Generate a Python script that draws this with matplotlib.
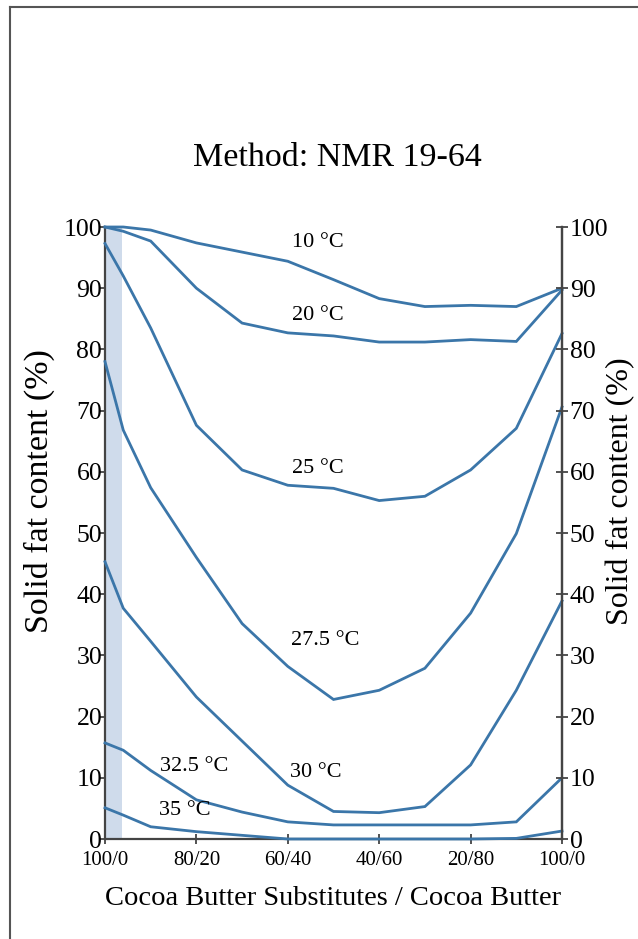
import matplotlib
matplotlib.use("Agg")
import matplotlib.pyplot as plt
from matplotlib.lines import Line2D

plt.rcParams['font.family'] = ['Liberation Serif', 'DejaVu Serif']

# CBS share (%) at each measured blend
x = [0, 4, 10, 20, 30, 40, 50, 60, 70, 80, 90, 100]

sfc_10 = [100, 100, 99.5, 97.4, 95.9, 94.4, 91.4, 88.3, 87.0, 87.2, 87.0, 90.0]
sfc_20 = [100, 99.3, 97.7, 90.0, 84.3, 82.7, 82.2, 81.2, 81.2, 81.6, 81.3, 89.7]
sfc_25 = [97.3, 92.0, 83.5, 67.6, 60.3, 57.8, 57.3, 55.3, 56.0, 60.3, 67.1, 82.6]
sfc_275 = [78.0, 66.8, 57.4, 46.0, 35.2, 28.2, 22.8, 24.3, 27.9, 36.9, 49.9, 70.6]
sfc_30 = [45.3, 37.7, 32.3, 23.2, 16.0, 8.8, 4.5, 4.3, 5.3, 12.1, 24.3, 38.9]
sfc_325 = [15.7, 14.5, 11.2, 6.4, 4.4, 2.8, 2.3, 2.3, 2.3, 2.3, 2.8, 10.0]
sfc_35 = [5.1, 3.9, 2.0, 1.2, 0.6, 0.0, 0.0, 0.0, 0.0, 0.0, 0.1, 1.3]

series = [sfc_10, sfc_20, sfc_25, sfc_275, sfc_30, sfc_325, sfc_35]
labels = ["10 °C", "20 °C", "25 °C", "27.5 °C", "30 °C", "32.5 °C", "35 °C"]
label_pos = [(46.6, 97.5), (46.6, 85.5), (46.6, 60.6), (48.1, 32.5),
             (46.2, 10.9), (19.5, 11.9), (17.5, 4.7)]

xticks = [0, 20, 40, 60, 80, 100]
xticklabels = ["100/0", "80/20", "60/40", "40/60", "20/80", "100/0"]
yticks = [0, 10, 20, 30, 40, 50, 60, 70, 80, 90, 100]

line_color = "#3b76a9"

fig = plt.figure(figsize=(6.38, 9.39), dpi=100)

# outer frame (left and top edges of the pasted box)
fig.add_artist(Line2D([10/638, 10/638], [0, 1 - 7/939], transform=fig.transFigure,
                      color="#555555", lw=1.5))
fig.add_artist(Line2D([10/638, 1], [1 - 7/939, 1 - 7/939], transform=fig.transFigure,
                      color="#555555", lw=1.5))

ax = fig.add_axes([105/638, 1 - 839/939, (562 - 105)/638, (839 - 227)/939])
ax.axvspan(0, 3.7, color="#cfdbeb", lw=0, zorder=0)

for ys in series:
    ax.plot(x, ys, color=line_color, lw=2.0, solid_joinstyle="miter", zorder=3, clip_on=False)

for lab, (lx, ly) in zip(labels, label_pos):
    ax.text(lx, ly, lab, fontsize=16, ha="center", va="center", zorder=4)

ax.set_xlim(0, 100)
ax.set_ylim(0, 100)
ax.set_xticks(xticks)
ax.set_xticklabels(xticklabels, fontsize=15)
ax.set_yticks(yticks)
ax.tick_params(axis="y", labelsize=18.5, direction="out", length=4, width=1.3,
               color="#444444", pad=-2)
ax.tick_params(axis="x", direction="inout", length=7, width=1.3, color="#444444", pad=5)
ax.spines["top"].set_visible(False)
for s in ["left", "bottom", "right"]:
    ax.spines[s].set_linewidth(1.6)
    ax.spines[s].set_color("#444444")
ax.set_ylabel("Solid fat content (%)", fontsize=24.5)
ax.yaxis.set_label_coords(-0.109, 0.569)
ax.set_xlabel("Cocoa Butter Substitutes / Cocoa Butter", fontsize=20.5, labelpad=12)

ax2 = ax.twinx()
ax2.set_ylim(0, 100)
ax2.set_yticks(yticks)
ax2.tick_params(axis="y", labelsize=18.5, direction="inout", length=9, width=1.3,
                color="#444444", pad=1)
for s in ["top", "left", "bottom"]:
    ax2.spines[s].set_visible(False)
ax2.spines["right"].set_linewidth(1.6)
ax2.spines["right"].set_color("#444444")
ax2.set_ylabel("Solid fat content (%)", fontsize=23)
ax2.yaxis.set_label_coords(1.097, 0.569)

fig.text(337/638, 1 - 158/939, "Method: NMR 19-64", fontsize=24.5, ha="center", va="center")

fig.savefig("out.png", dpi=100)
